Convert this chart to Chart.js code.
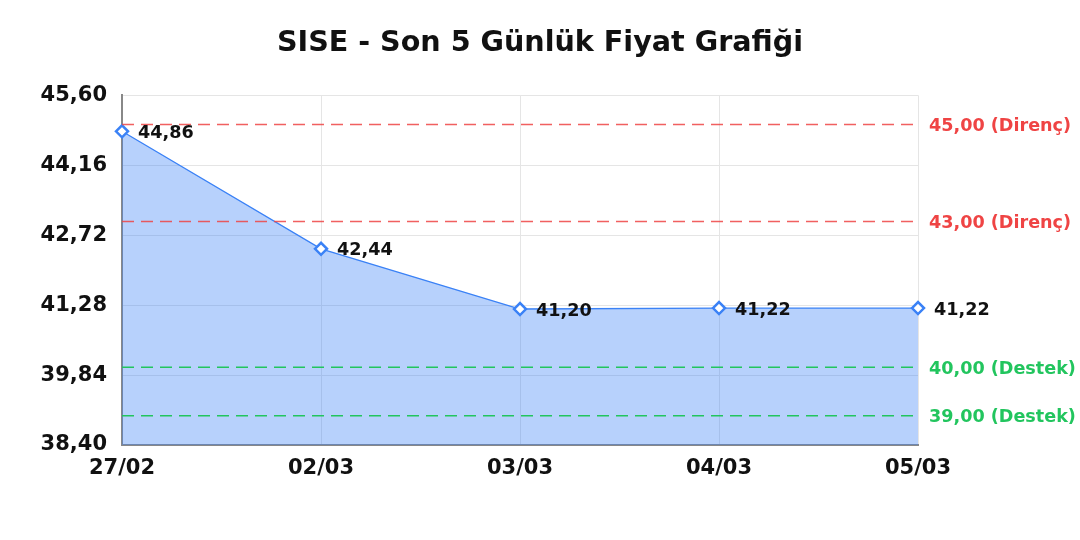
<!DOCTYPE html>
<html>
<head>
<meta charset="utf-8">
<script src="https://cdn.jsdelivr.net/npm/chart.js@4/dist/chart.umd.min.js"></script>
<style>
  html, body { margin: 0; padding: 0; background: #fff; }
  #wrap { width: 1080px; height: 540px; }
</style>
</head>
<body>
<div id="wrap"><canvas id="chart"></canvas></div>
<script>
const days = ["27/02", "02/03", "03/03", "04/03", "05/03"];
const prices = [44.86, 42.44, 41.20, 41.22, 41.22];
const yTicks = [38.40, 39.84, 41.28, 42.72, 44.16, 45.60];
const resistance = [45.00, 43.00];
const support = [40.00, 39.00];

const fmt = v => v.toFixed(2).replace(".", ",");
const FONT = "'DejaVu Sans', sans-serif";

// dashed levels + labels on the right, value labels next to the points
const extras = {
  id: "extras",
  afterDatasetsDraw(chart) {
    const { ctx, chartArea, scales } = chart;
    const y = scales.y;
    const levels = resistance.map(v => [v, "Direnç", "#ef4444", "rgba(239,68,68,0.85)"])
      .concat(support.map(v => [v, "Destek", "#22c55e", "#22c55e"]));
    ctx.save();
    levels.forEach(([v, name, col, lineCol]) => {
      const py = y.getPixelForValue(v);
      ctx.strokeStyle = lineCol;
      ctx.lineWidth = 1.5;
      ctx.setLineDash([12, 7]);
      ctx.beginPath();
      ctx.moveTo(chartArea.left, py);
      ctx.lineTo(chartArea.right, py);
      ctx.stroke();
      ctx.setLineDash([]);
      ctx.fillStyle = col;
      ctx.font = "bold 17.6px " + FONT;
      ctx.textAlign = "left";
      ctx.textBaseline = "middle";
      ctx.fillText(fmt(v) + " (" + name + ")", chartArea.right + 11, py + 2);
    });
    const meta = chart.getDatasetMeta(0);
    ctx.fillStyle = "#111";
    ctx.font = "bold 17.6px " + FONT;
    meta.data.forEach((pt, i) => {
      ctx.fillText(fmt(prices[i]), pt.x + 16, pt.y + 2);
    });
    ctx.restore();
  }
};

new Chart(document.getElementById("chart"), {
  type: "line",
  data: {
    labels: days,
    datasets: [{
      label: "SISE",
      data: prices,
      borderColor: "#3b82f6",
      borderWidth: 1.3,
      backgroundColor: "rgba(59,130,246,0.37)",
      fill: "start",
      tension: 0,
      pointStyle: "rectRot",
      pointRadius: 6,
      pointBorderWidth: 2.5,
      pointBackgroundColor: "#fff",
      pointBorderColor: "#3b82f6"
    }]
  },
  options: {
    responsive: true,
    maintainAspectRatio: false,
    animation: false,
    layout: { padding: { left: 0, right: 0, top: 0, bottom: 55 } },
    plugins: {
      legend: { display: false },
      tooltip: { enabled: false },
      title: {
        display: true,
        text: "SISE - Son 5 Günlük Fiyat Grafiği",
        color: "#111",
        font: { family: FONT, size: 28.6, weight: "bold" },
        padding: { top: 26, bottom: 35 }
      }
    },
    scales: {
      x: {
        offset: false,
        afterFit: s => { s.height = 40; },
        grid: { color: "#e5e5e5", drawTicks: false },
        border: { color: "#888", width: 2 },
        ticks: { color: "#111", font: { family: FONT, size: 21, weight: "bold" }, padding: 11, maxRotation: 0 }
      },
      y: {
        min: 38.4,
        max: 45.6,
        afterFit: s => { s.width = 122; },
        afterBuildTicks: s => { s.ticks = yTicks.map(v => ({ value: v })); },
        grid: { color: "#e5e5e5", drawTicks: false },
        border: { color: "#888", width: 2 },
        ticks: { color: "#111", font: { family: FONT, size: 21, weight: "bold" }, padding: 15, callback: v => fmt(v) }
      },
      right: {
        position: "right",
        afterFit: s => { s.width = 162; },
        grid: { display: false },
        border: { display: false },
        ticks: { display: false }
      }
    }
  },
  plugins: [extras]
});
</script>
</body>
</html>
